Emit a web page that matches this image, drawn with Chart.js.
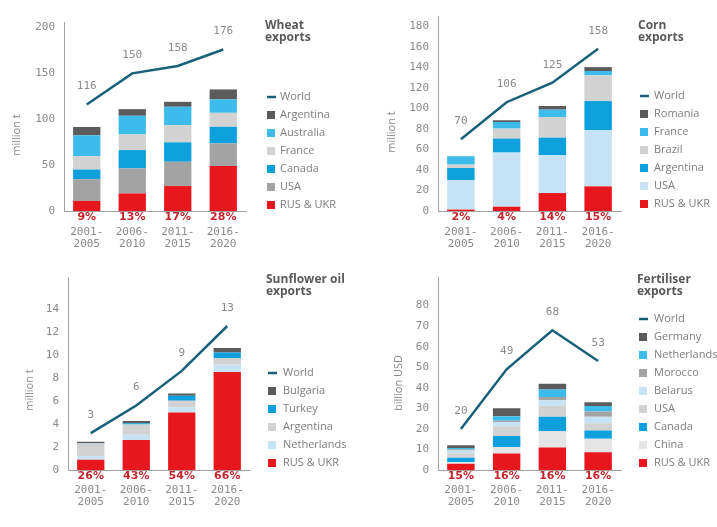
<!DOCTYPE html>
<html>
<head>
<meta charset="utf-8">
<script src="https://cdn.jsdelivr.net/npm/chart.js@4.4.1/dist/chart.umd.min.js"></script>
<style>
  html, body { margin: 0; padding: 0; background: #fff; }
  #wrap { position: relative; width: 717px; height: 527px; overflow: hidden; }
  canvas { position: absolute; }
</style>
</head>
<body>
<div id="wrap">
  <canvas id="wheat" width="358" height="262" style="left:0;top:0"></canvas>
  <canvas id="corn" width="359" height="262" style="left:358px;top:0"></canvas>
  <canvas id="sun" width="358" height="265" style="left:0;top:262px"></canvas>
  <canvas id="fert" width="359" height="265" style="left:358px;top:262px"></canvas>
</div>
<script>
const periods = [['2001-', '2005'], ['2006-', '2010'], ['2011-', '2015'], ['2016-', '2020']];

// wheat exports, million t (bottom of stack first)
const wheatWorld = [116, 150, 158, 176];
const wheatRusUkr = [11, 19.2, 27.2, 49];
const wheatUsa = [23.6, 27.2, 26.5, 24.7];
const wheatCanada = [10.6, 20, 21.1, 18.1];
const wheatFrance = [14.5, 17.1, 18.8, 15.2];
const wheatAustralia = [22.8, 20.3, 20, 14.6];
const wheatArgentina = [9.1, 7.2, 5.4, 10.9];
const wheatShares = ['9%', '13%', '17%', '28%'];

// corn exports, million t
const cornWorld = [70, 106, 125, 158];
const cornRusUkr = [1.4, 4.2, 17.5, 24];
const cornUsa = [28.5, 52.7, 36.8, 54.6];
const cornArgentina = [12, 13.7, 17.2, 28.5];
const cornBrazil = [3.3, 9.7, 20.1, 25.1];
const cornFrance = [8.1, 6.4, 7.2, 4.2];
const cornRomania = [0.2, 1.7, 3.5, 3.8];
const cornShares = ['2%', '4%', '14%', '15%'];

// sunflower oil exports, million t
const sunWorld = [3.2, 5.6, 8.6, 12.5];
const sunRusUkr = [0.9, 2.6, 5.0, 8.5];
const sunNetherlands = [0.3, 0.45, 0.45, 0.65];
const sunArgentina = [1.1, 0.9, 0.55, 0.55];
const sunTurkey = [0.03, 0.1, 0.45, 0.5];
const sunBulgaria = [0.12, 0.2, 0.2, 0.4];
const sunShares = ['26%', '43%', '54%', '66%'];

// fertiliser exports, billion USD
const fertWorld = [20, 49, 68, 53];
const fertRusUkr = [3.0, 8.0, 10.9, 8.6];
const fertChina = [0.8, 3.2, 8, 6.6];
const fertCanada = [2.2, 5.3, 7, 4];
const fertUsa = [2.2, 4.8, 5.3, 3.5];
const fertBelarus = [1.3, 1.9, 2.7, 3.2];
const fertMorocco = [0.6, 0.8, 1.6, 2.6];
const fertNetherlands = [0.6, 2.1, 3.7, 2.6];
const fertGermany = [1.3, 4.0, 2.7, 1.8];
const fertShares = ['15%', '16%', '16%', '16%'];

const RED = '#e8171e';
const DARK = '#5b5b5b';
const LIGHTBLUE = '#3dbbea';
const LIGHTGRAY = '#d2d2d2';
const BLUE = '#0ea0dd';
const MIDGRAY = '#a3a3a3';
const PALEBLUE = '#c5e3f5';
const PALEGRAY = '#e5e5e5';
const TEAL = '#17607a';
const AXIS = '#a0a0a0';
const TEXT = '#8a8a8a';
const SHARE = '#c8232c';
const MONO = '"DejaVu Sans Mono", monospace';
const SANS = '"Open Sans", sans-serif';

function decor(o) {
    return {
        id: 'decor',
        afterDraw(chart) {
            const ctx = chart.ctx;
            const xs = chart.scales.x;
            const area = chart.chartArea;
            ctx.save();

            // y axis title
            ctx.save();
            ctx.translate(o.yTitle.x, o.yTitle.y);
            ctx.rotate(-Math.PI / 2);
            ctx.font = '11px ' + SANS;
            ctx.fillStyle = TEXT;
            ctx.textAlign = 'center';
            ctx.textBaseline = 'middle';
            ctx.fillText(o.yTitle.text, 0, 0);
            ctx.restore();

            // shares of RUS & UKR under the axis
            ctx.font = 'bold 11px "DejaVu Sans", sans-serif';
            ctx.fillStyle = SHARE;
            ctx.textAlign = 'center';
            ctx.textBaseline = 'middle';
            o.shares.forEach((s, i) => ctx.fillText(s, xs.getPixelForValue(i), area.bottom + 6));

            // world values above the line
            ctx.font = '11px ' + MONO;
            ctx.fillStyle = TEXT;
            const pts = chart.getDatasetMeta(chart.data.datasets.length - 1).data;
            pts.forEach((p, i) => ctx.fillText(String(Math.round(o.world[i])), p.x, p.y - 18));

            // panel title
            ctx.font = 'bold 12px ' + SANS;
            ctx.fillStyle = '#595959';
            ctx.textAlign = 'left';
            o.title.forEach((t, i) => ctx.fillText(t, o.legend.x - 2, o.titleY + i * 11.5));

            // legend
            const lg = o.legend;
            ctx.font = '11px ' + SANS;
            let y = lg.y;
            ctx.strokeStyle = TEAL;
            ctx.lineWidth = 2.5;
            ctx.beginPath();
            ctx.moveTo(lg.x, y);
            ctx.lineTo(lg.x + 9, y);
            ctx.stroke();
            ctx.fillStyle = '#7d7d7d';
            ctx.fillText('World', lg.tx, y);
            o.series.slice().reverse().forEach(s => {
                y += 18;
                ctx.fillStyle = s.color;
                ctx.fillRect(lg.x, y - 4, 8, 8);
                ctx.fillStyle = '#7d7d7d';
                ctx.fillText(s.name, lg.tx, y);
            });
            ctx.restore();
        }
    };
}

function panel(id, o) {
    const datasets = o.series.map(s => ({
        type: 'bar',
        label: s.name,
        data: s.data,
        backgroundColor: s.color,
        stack: 'bars',
        order: 1,
        barPercentage: 0.6,
        categoryPercentage: 1,
    }));
    datasets.push({
        type: 'line',
        label: 'World',
        data: o.world,
        borderColor: TEAL,
        borderWidth: 2.5,
        pointRadius: 0,
        tension: 0,
        fill: false,
        stack: 'world',
        order: 0,
    });

    new Chart(document.getElementById(id), {
        type: 'bar',
        data: { labels: periods, datasets },
        options: {
            responsive: false,
            animation: false,
            events: [],
            layout: { padding: { top: o.area.top, right: o.area.right, left: 0, bottom: 0 } },
            plugins: { legend: { display: false }, tooltip: { enabled: false } },
            scales: {
                x: {
                    stacked: true,
                    grid: { display: false, drawTicks: false },
                    border: { color: AXIS, width: 1 },
                    ticks: { font: { family: MONO, size: 11, lineHeight: 1.1 }, color: TEXT, padding: o.area.xPad, maxRotation: 0 },
                    afterFit: s => { s.height = o.area.xh; },
                },
                y: {
                    stacked: true,
                    min: 0,
                    max: o.yMax,
                    grid: { display: false, drawTicks: false },
                    border: { color: AXIS, width: 1 },
                    ticks: {
                        stepSize: o.step,
                        includeBounds: false,
                        padding: 9,
                        font: { family: MONO, size: 11 },
                        color: TEXT,
                        callback: v => (v <= o.yTop ? v : ''),
                    },
                    afterFit: s => { s.width = o.area.left; },
                },
            },
        },
        plugins: [decor(o)],
    });
}

panel('wheat', {
    series: [
        { name: 'RUS & UKR', data: wheatRusUkr, color: RED },
        { name: 'USA', data: wheatUsa, color: MIDGRAY },
        { name: 'Canada', data: wheatCanada, color: BLUE },
        { name: 'France', data: wheatFrance, color: LIGHTGRAY },
        { name: 'Australia', data: wheatAustralia, color: LIGHTBLUE },
        { name: 'Argentina', data: wheatArgentina, color: DARK },
    ],
    world: wheatWorld, shares: wheatShares,
    yMax: 206, step: 50, yTop: 200,
    area: { left: 64, right: 112, top: 22, xh: 51, xPad: 15 },
    yTitle: { text: 'million t', x: 17, y: 135 },
    title: ['Wheat', 'exports'], titleY: 26,
    legend: { x: 267, tx: 280, y: 97 },
});

panel('corn', {
    series: [
        { name: 'RUS & UKR', data: cornRusUkr, color: RED },
        { name: 'USA', data: cornUsa, color: PALEBLUE },
        { name: 'Argentina', data: cornArgentina, color: BLUE },
        { name: 'Brazil', data: cornBrazil, color: LIGHTGRAY },
        { name: 'France', data: cornFrance, color: LIGHTBLUE },
        { name: 'Romania', data: cornRomania, color: DARK },
    ],
    world: cornWorld, shares: cornShares,
    yMax: 190, step: 20, yTop: 180,
    area: { left: 80, right: 96, top: 16, xh: 51, xPad: 15 },
    yTitle: { text: 'million t', x: 34, y: 132 },
    title: ['Corn', 'exports'], titleY: 26,
    legend: { x: 282, tx: 296, y: 96 },
});

panel('sun', {
    series: [
        { name: 'RUS & UKR', data: sunRusUkr, color: RED },
        { name: 'Netherlands', data: sunNetherlands, color: PALEBLUE },
        { name: 'Argentina', data: sunArgentina, color: LIGHTGRAY },
        { name: 'Turkey', data: sunTurkey, color: BLUE },
        { name: 'Bulgaria', data: sunBulgaria, color: DARK },
    ],
    world: sunWorld, shares: sunShares,
    yMax: 16.7, step: 2, yTop: 14,
    area: { left: 68, right: 108, top: 13, xh: 57, xPad: 14 },
    yTitle: { text: 'million t', x: 30, y: 128 },
    title: ['Sunflower oil', 'exports'], titleY: 18,
    legend: { x: 268, tx: 283, y: 111 },
});

panel('fert', {
    series: [
        { name: 'RUS & UKR', data: fertRusUkr, color: RED },
        { name: 'China', data: fertChina, color: PALEGRAY },
        { name: 'Canada', data: fertCanada, color: BLUE },
        { name: 'USA', data: fertUsa, color: LIGHTGRAY },
        { name: 'Belarus', data: fertBelarus, color: PALEBLUE },
        { name: 'Morocco', data: fertMorocco, color: MIDGRAY },
        { name: 'Netherlands', data: fertNetherlands, color: LIGHTBLUE },
        { name: 'Germany', data: fertGermany, color: DARK },
    ],
    world: fertWorld, shares: fertShares,
    yMax: 93.6, step: 10, yTop: 80,
    area: { left: 80, right: 96, top: 13, xh: 57, xPad: 14 },
    yTitle: { text: 'billion USD', x: 41, y: 121 },
    title: ['Fertiliser', 'exports'], titleY: 18,
    legend: { x: 281, tx: 296, y: 57 },
});
</script>
</body>
</html>
